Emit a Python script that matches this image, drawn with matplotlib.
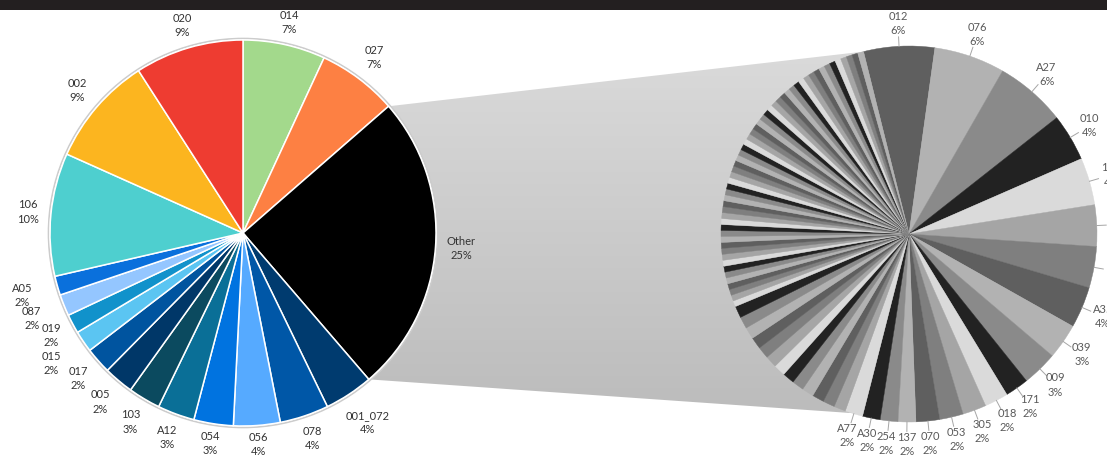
import numpy as np
import matplotlib.pyplot as plt
from matplotlib.patches import Polygon, Rectangle, Circle
from matplotlib.colors import LinearSegmentedColormap

plt.rcParams['font.family'] = ['Lato', 'DejaVu Sans']

# main pie (percent of total)
main_names = ['014', '027', 'Other', '001_072', '078', '056', '054', 'A12', '103',
              '005', '017', '015', '019', '087', 'A05', '106', '002', '020']
main_values = [6.9, 6.7, 25.1, 4.1, 4.1, 3.9, 3.3, 3.1, 2.7,
               2.5, 2.2, 1.8, 1.6, 1.8, 1.6, 10.3, 9.2, 9.1]
main_colors = ['#a3d98c', '#fd8043', '#000000', '#003b6f', '#0057a7', '#56aaff',
               '#0073e0', '#0a6f97', '#0b4a5f', '#003768', '#00549f', '#5bc5f2',
               '#1192cb', '#94c6ff', '#0a70dc', '#4ecfcf', '#fcb51f', '#ee3c31']
# label distance from centre (in radii), crowded labels pushed out
main_label_r = [1.115, 1.135, 1.135, 1.175, 1.125, 1.1, 1.105, 1.13, 1.14,
                1.145, 1.14, 1.2, 1.125, 1.18, 1.19, 1.12, 1.13, 1.12]

# breakdown of "Other" (counts)
other_names = ['012', '076', 'A27', '010', '150', '110', '024', 'A35', '039', '009',
               '171', '018', '305', '053', '070', '137', '254', 'A30', 'A77']
other_values = [12, 12, 12, 8, 8, 7, 7, 7, 6, 6, 4, 4, 4, 4, 4, 3, 3, 3, 3]
# remaining unlabelled items
small_values = [2, 2, 2, 2, 2, 2, 2, 2, 2, 2, 2, 2, 2,
                1, 1, 1, 1, 1, 1, 1, 1, 1, 1, 1, 1, 1, 1, 1, 1, 1, 1,
                1, 1, 1, 1, 1, 1, 1, 1, 1, 1, 1, 1, 1, 1, 1, 1, 1, 1,
                1, 1, 1, 1, 1, 1, 1, 1, 1, 1, 1, 1, 1, 1, 1, 1, 1, 1]
grays = ['#5f5f5f', '#b2b2b2', '#8a8a8a', '#222222', '#dadada', '#a5a5a5', '#7f7f7f']

W, H = 1107, 457
fig = plt.figure(figsize=(W / 100, H / 100), dpi=100)
ax = fig.add_axes([0, 0, 1, 1])

c1, r1 = (243, 224), 193
c2, r2 = (909, 223), 188


def polar(c, r, deg):
    t = np.radians(deg)
    return c[0] + r * np.cos(t), c[1] + r * np.sin(t)


# left pie
ax.add_patch(Circle(c1, r1 + 1.5, facecolor='white', edgecolor='#cccccc', lw=1.2, zorder=1))
w1, _ = ax.pie(main_values, colors=main_colors, startangle=90, counterclock=False,
               center=c1, radius=r1, frame=True,
               wedgeprops=dict(edgecolor='white', linewidth=1.1, zorder=2))
for w, name, v, lr in zip(w1, main_names, main_values, main_label_r):
    mid = (w.theta1 + w.theta2) / 2
    x, y = polar(c1, r1 * lr, mid)
    ax.text(x, y, f"{name}\n{v / sum(main_values) * 100:.0f}%", ha='center', va='center',
            fontsize=8, color='#333333', linespacing=1.35, zorder=5)

# right pie
vals2 = other_values + small_values
cols2 = [grays[i % len(grays)] for i in range(len(vals2))]
w2, _ = ax.pie(vals2, colors=cols2, startangle=104, counterclock=False,
               center=c2, radius=r2, frame=True,
               wedgeprops=dict(linewidth=0.3, zorder=2))
for w, col in zip(w2, cols2):
    w.set_edgecolor(col)
total2 = sum(vals2)
for w, name, v in zip(w2, other_names, other_values):
    mid = (w.theta1 + w.theta2) / 2
    xa, ya = polar(c2, r2, mid)
    xb, yb = polar(c2, r2 * 1.05, mid)
    ax.plot([xa, xb], [ya, yb], color='#a6a6a6', lw=0.7, zorder=3)
    x, y = polar(c2, r2 * 1.12, mid)
    ax.text(x, y, f"{name}\n{v / total2 * 100:.0f}%", ha='center', va='center',
            fontsize=8, color='#595959', linespacing=1.35, zorder=5)

# connector between the pies
other_w = w1[2]
p_up = polar(c1, r1, other_w.theta2)
p_lo = polar(c1, r1, other_w.theta1)
q_up = polar(c2, r2, 104)
q_lo = polar(c2, r2, 90 - 197.7)
poly = Polygon([p_up, q_up, c2, q_lo, p_lo, c1], closed=True, facecolor='none',
               edgecolor='none', zorder=0)
ax.add_patch(poly)
grad = np.linspace(0, 1, 256).reshape(-1, 1)
cmap = LinearSegmentedColormap.from_list('g', ['#bcbcbc', '#dadada'])
im = ax.imshow(grad, extent=(0, W, q_lo[1], q_up[1]), origin='lower', cmap=cmap,
               aspect='auto', zorder=0)
im.set_clip_path(poly)

# dark strip on top
ax.add_patch(Rectangle((0, H - 10), W, 10, facecolor='#231f20', edgecolor='none', zorder=6))

ax.set_xlim(0, W)
ax.set_ylim(0, H)
ax.set_aspect('equal')
ax.axis('off')
fig.savefig('out.png', dpi=100)
